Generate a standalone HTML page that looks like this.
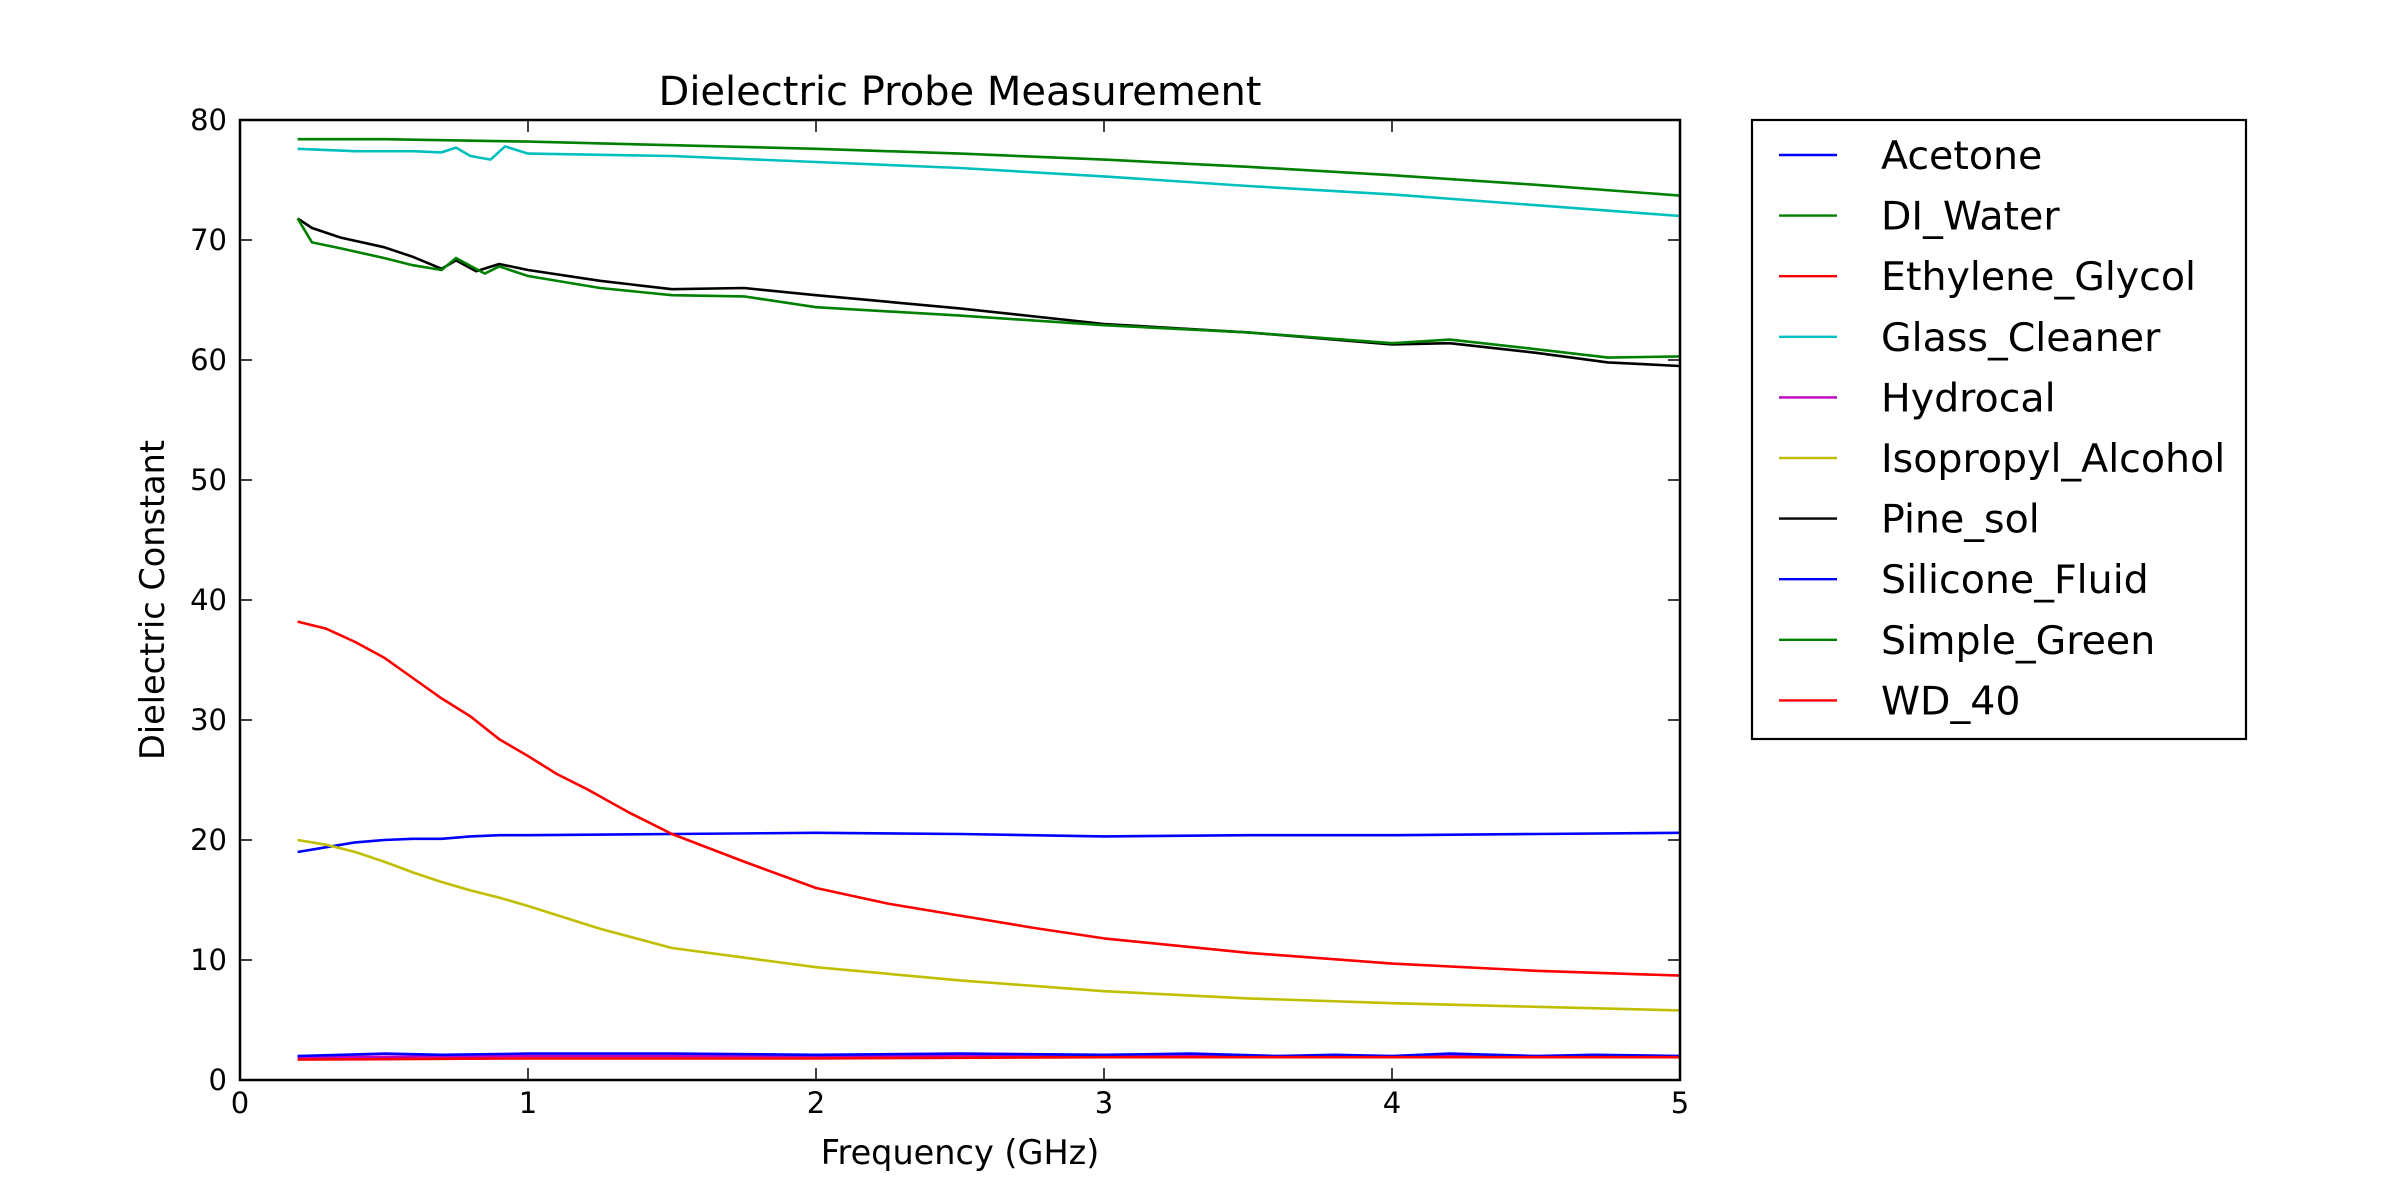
<!DOCTYPE html>
<html><head><meta charset="utf-8"><style>
html,body{margin:0;padding:0;background:#fff;}
svg{display:block;font-family:"DejaVu Sans","Liberation Sans",sans-serif;}
</style></head><body>
<svg id="chart" width="2400" height="1200" viewBox="0 0 2400 1200" xmlns="http://www.w3.org/2000/svg">
<rect width="2400" height="1200" fill="#fff"/>
<text x="960" y="105" font-size="40" text-anchor="middle">Dielectric Probe Measurement</text>
<text x="960" y="1164" font-size="33.5" text-anchor="middle">Frequency (GHz)</text>
<text x="0" y="0" font-size="33.5" text-anchor="middle" transform="translate(164,600) rotate(-90)">Dielectric Constant</text>
<g id="series"></g>
<g id="axes"></g>
<g id="legend"></g>
</svg>
<script>
const xTicks=[0,1,2,3,4,5];
const yTicks=[0,10,20,30,40,50,60,70,80];
const seriesNames=["Acetone","DI_Water","Ethylene_Glycol","Glass_Cleaner","Hydrocal","Isopropyl_Alcohol","Pine_sol","Silicone_Fluid","Simple_Green","WD_40"];
const seriesColors=["#0000ff","#008000","#ff0000","#00bfbf","#bf00bf","#bfbf00","#000000","#0000ff","#008000","#ff0000"];
const acetoneX=[0.2,0.3,0.4,0.5,0.6,0.7,0.8,0.9,1,1.5,2,2.5,3,3.5,4,4.5,5];
const acetoneY=[19,19.4,19.8,20,20.1,20.1,20.3,20.4,20.4,20.5,20.6,20.5,20.3,20.4,20.4,20.5,20.6];
const diWaterX=[0.2,0.5,1,1.5,2,2.5,3,3.5,4,4.5,5];
const diWaterY=[78.4,78.4,78.2,77.9,77.6,77.2,76.7,76.1,75.4,74.6,73.7];
const glycolX=[0.2,0.3,0.4,0.5,0.6,0.7,0.8,0.9,1,1.1,1.2,1.35,1.5,1.75,2,2.25,2.5,2.75,3,3.5,4,4.5,5];
const glycolY=[38.2,37.6,36.5,35.2,33.5,31.8,30.3,28.4,27,25.5,24.3,22.3,20.5,18.2,16,14.7,13.7,12.7,11.8,10.6,9.7,9.1,8.7];
const glassX=[0.2,0.4,0.6,0.7,0.75,0.8,0.87,0.92,1,1.5,2,2.5,3,3.5,4,4.5,5];
const glassY=[77.6,77.4,77.4,77.3,77.7,77.0,76.7,77.8,77.2,77.0,76.5,76.0,75.3,74.5,73.8,72.9,72.0];
const hydrocalX=[0.2,1,2,3,4,5];
const hydrocalY=[1.9,2.0,2.0,2.0,2.0,2.0];
const ipaX=[0.2,0.3,0.4,0.5,0.6,0.7,0.8,0.9,1,1.25,1.5,1.75,2,2.5,3,3.5,4,4.5,5];
const ipaY=[20,19.6,19.0,18.2,17.3,16.5,15.8,15.2,14.5,12.6,11,10.2,9.4,8.3,7.4,6.8,6.4,6.1,5.8];
const pineX=[0.2,0.25,0.35,0.5,0.6,0.7,0.75,0.82,0.9,1,1.25,1.5,1.75,2,2.5,3,3.5,4,4.2,4.5,4.75,5];
const pineY=[71.8,71,70.2,69.4,68.6,67.6,68.3,67.4,68,67.5,66.6,65.9,66,65.4,64.3,63.0,62.3,61.3,61.4,60.6,59.8,59.5];
const siliconeX=[0.2,0.5,0.7,1,1.5,2,2.5,3,3.3,3.6,3.8,4,4.2,4.5,4.7,5];
const siliconeY=[2.0,2.2,2.1,2.2,2.2,2.1,2.2,2.1,2.2,2.0,2.1,2.0,2.2,2.0,2.1,2.0];
const greenX=[0.2,0.25,0.35,0.5,0.6,0.7,0.75,0.85,0.9,1,1.25,1.5,1.75,2,2.5,3,3.5,4,4.2,4.5,4.75,5];
const greenY=[71.8,69.8,69.3,68.5,67.9,67.5,68.5,67.2,67.8,67,66,65.4,65.3,64.4,63.7,62.9,62.3,61.4,61.7,60.9,60.2,60.3];
const wdX=[0.2,1,2,3,4,5];
const wdY=[1.7,1.8,1.8,1.9,1.9,1.9];
const allX=[acetoneX,diWaterX,glycolX,glassX,hydrocalX,ipaX,pineX,siliconeX,greenX,wdX];
const allY=[acetoneY,diWaterY,glycolY,glassY,hydrocalY,ipaY,pineY,siliconeY,greenY,wdY];

const NS="http://www.w3.org/2000/svg";
const L=240,R=1680,T=120,B=1080;
function sx(v){return L+(v-0)/(5-0)*(R-L);}
function sy(v){return B-(v-0)/(80-0)*(B-T);}
function mk(tag,attrs,parent){const e=document.createElementNS(NS,tag);for(const k in attrs)e.setAttribute(k,attrs[k]);parent.appendChild(e);return e;}
const gS=document.getElementById('series'),gA=document.getElementById('axes'),gL=document.getElementById('legend');
for(let i=0;i<seriesNames.length;i++){
  const pts=allX[i].map((x,j)=>sx(x).toFixed(1)+','+sy(allY[i][j]).toFixed(1)).join(' ');
  const pl=mk('polyline',{points:pts,fill:'none',stroke:seriesColors[i],'stroke-width':2.6,'stroke-linejoin':'round'},gS);
  
  
}
const frame=mk('rect',{x:L,y:T,width:R-L,height:B-T,fill:'none',stroke:'#000','stroke-width':2.5},gA);


xTicks.forEach(v=>{
  const x=sx(v);
  mk('line',{x1:x,y1:B,x2:x,y2:B-12,stroke:'#000','stroke-width':1.5},gA);
  mk('line',{x1:x,y1:T,x2:x,y2:T+12,stroke:'#000','stroke-width':1.5},gA);
  const t=mk('text',{x:x,y:1113,'font-size':29,'text-anchor':'middle'},gA);
  t.textContent=v;
  
  
});
yTicks.forEach(v=>{
  const y=sy(v);
  mk('line',{x1:L,y1:y,x2:L+12,y2:y,stroke:'#000','stroke-width':1.5},gA);
  mk('line',{x1:R,y1:y,x2:R-12,y2:y,stroke:'#000','stroke-width':1.5},gA);
  const t=mk('text',{x:227,y:y+10,'font-size':29,'text-anchor':'end'},gA);
  t.textContent=v;
  
  
});
const box=mk('rect',{x:1752,y:120,width:494,height:619,fill:'#fff',stroke:'#000','stroke-width':2.2},gL);


seriesNames.forEach((n,i)=>{
  const y=155+i*60.6;
  const ln=mk('line',{x1:1779,y1:y,x2:1837,y2:y,stroke:seriesColors[i],'stroke-width':2.4},gL);
  
  
  const t=mk('text',{x:1881,y:y+14,'font-size':39.5},gL);
  t.textContent=n;
  
  
});
</script>
</body></html>
